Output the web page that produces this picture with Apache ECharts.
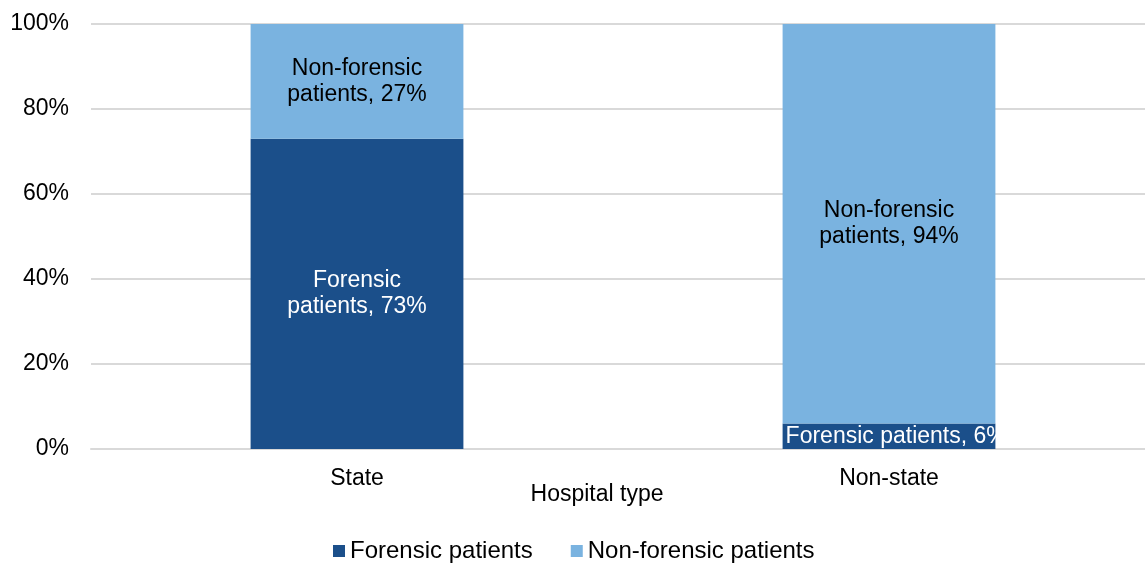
<!DOCTYPE html>
<html><head><meta charset="utf-8">
<script src="https://cdn.jsdelivr.net/npm/echarts@6/dist/echarts.min.js"></script>
<style>html,body{margin:0;padding:0;background:#fff;overflow:hidden}#c{width:1155px;height:563px}</style>
</head><body><div id="c"></div>
<script>
const categories = ['State', 'Non-state'];
const forensic = [73, 6];
const nonForensic = [27, 94];
const yTicks = [0, 20, 40, 60, 80, 100];
const seriesNames = ['Forensic patients', 'Non-forensic patients'];

const font = '"Liberation Sans", Arial, sans-serif';
const chart = echarts.init(document.getElementById('c'));
chart.setOption({
  animation: false,
  textStyle: { fontFamily: font },
  grid: { left: 91, right: 0, top: 24, bottom: 114, containLabel: false },
  legend: {
    left: 328, top: 534, itemWidth: 12, itemHeight: 12, itemGap: 38,
    icon: 'rect',
    textStyle: { fontSize: 24, color: '#000', fontFamily: font },
    data: seriesNames
  },
  xAxis: {
    type: 'category', data: categories,
    name: 'Hospital type', nameLocation: 'middle', nameGap: 34, nameMoveOverlap: false,
    nameTextStyle: { fontSize: 23, color: '#000', fontFamily: font, padding: [0, 52, 0, 0] },
    axisLine: { lineStyle: { color: '#d9d9d9', width: 2 } },
    axisTick: { show: false },
    axisLabel: { fontSize: 23, color: '#000', margin: 18, fontFamily: font }
  },
  yAxis: {
    type: 'value', min: 0, max: 100, interval: 20,
    axisLabel: { fontSize: 23, color: '#000', margin: 22, fontFamily: font,
      formatter: v => yTicks.includes(v) ? v + '%' : '' },
    splitLine: { lineStyle: { color: '#d9d9d9', width: 2 } }
  },
  series: [
    { name: seriesNames[0], type: 'bar', stack: 's', barWidth: '40%',
      data: forensic.map(v => v >= 20 ? v : { value: v, label: { position: 'insideLeft', distance: 3 } }),
      itemStyle: { color: '#1B4F8A' },
      label: { show: true, position: 'inside', color: '#fff', fontSize: 23, lineHeight: 26,
        fontFamily: font,
        formatter: p => p.value >= 20 ? 'Forensic\npatients, ' + p.value + '%' : 'Forensic patients, ' + p.value + '%' } },
    { name: seriesNames[1], type: 'bar', stack: 's', data: nonForensic, barWidth: '40%',
      itemStyle: { color: '#7AB3E0' },
      label: { show: true, position: 'inside', color: '#000', fontSize: 23, lineHeight: 26,
        fontFamily: font,
        formatter: p => 'Non-forensic\npatients, ' + p.value + '%' } }
  ]
});
</script></body></html>
